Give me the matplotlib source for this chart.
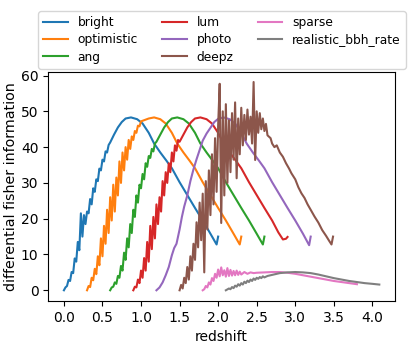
import numpy as np
import matplotlib
matplotlib.use('Agg')
import matplotlib.pyplot as plt

labels = ['bright', 'optimistic', 'ang', 'lum', 'photo', 'deepz', 'sparse', 'realistic_bbh_rate']

bright_z = [0.00, 0.02, 0.04, 0.06, 0.08, 0.10, 0.12, 0.14, 0.16, 0.18, 0.20, 0.22, 0.24, 0.26, 0.28, 0.30,
            0.32, 0.34, 0.36, 0.38, 0.40, 0.42, 0.44, 0.46, 0.48, 0.50, 0.52, 0.54, 0.56, 0.58, 0.60,
            0.65, 0.70, 0.75, 0.80, 0.87, 0.95, 1.02, 1.10, 1.17, 1.25, 1.33, 1.40, 1.50, 1.60, 1.70,
            1.80, 1.90, 1.98, 2.00]
bright_v = [0.0, 0.8, 1.2, 2.9, 2.6, 5.1, 4.8, 8.9, 8.0, 13.5, 11.2, 21.5, 15.0, 21.0, 18.5, 22.0,
            21.5, 25.5, 24.0, 28.5, 27.5, 31.0, 30.5, 34.0, 33.5, 36.5, 36.0, 38.8, 38.5, 40.6, 41.3,
            43.5, 45.5, 47.0, 48.0, 48.3, 47.8, 46.6, 44.0, 41.0, 38.5, 36.2, 34.1, 30.2, 26.6, 23.0,
            19.5, 15.8, 12.8, 15.0]

optimistic_z = [0.30, 0.32, 0.34, 0.36, 0.38, 0.40, 0.42, 0.44, 0.46, 0.48, 0.50, 0.52, 0.54, 0.56, 0.58,
                0.60, 0.62, 0.64, 0.66, 0.68, 0.70, 0.72, 0.74, 0.76, 0.78, 0.80, 0.82, 0.84, 0.86, 0.88,
                0.90, 0.92, 0.94, 0.96, 0.98, 1.00, 1.05, 1.10, 1.17, 1.25, 1.32, 1.40, 1.47, 1.55, 1.63,
                1.70, 1.80, 1.90, 2.00, 2.10, 2.20, 2.28, 2.30]
optimistic_v = [0.0, 1.2, 0.9, 3.5, 2.8, 6.0, 4.5, 9.5, 7.0, 14.5, 9.5, 18.0, 13.0, 22.5, 16.0,
                26.0, 19.5, 29.5, 22.0, 31.5, 26.5, 36.0, 30.0, 38.5, 33.5, 40.0, 36.5, 42.0, 39.5, 43.0,
                42.0, 44.5, 44.0, 46.0, 45.8, 47.2, 47.6, 48.0, 48.3, 47.8, 46.6, 44.0, 41.0, 38.5, 36.2,
                34.1, 30.2, 26.6, 23.0, 19.5, 15.8, 12.8, 15.0]

ang_z = [0.60, 0.62, 0.64, 0.66, 0.68, 0.70, 0.72, 0.74, 0.76, 0.78, 0.80, 0.82, 0.84, 0.86, 0.88,
         0.90, 0.92, 0.94, 0.96, 0.98, 1.00, 1.02, 1.04, 1.06, 1.08, 1.10, 1.12, 1.14, 1.16, 1.18,
         1.20, 1.25, 1.30, 1.35, 1.40, 1.47, 1.55, 1.62, 1.70, 1.77, 1.85, 1.93, 2.00, 2.10, 2.20,
         2.30, 2.40, 2.50, 2.58, 2.60]
ang_v = [0.0, 0.8, 1.0, 2.2, 1.8, 4.0, 3.5, 6.8, 5.5, 10.5, 8.5, 14.5, 12.0, 18.5, 16.0,
         22.5, 20.5, 26.5, 24.5, 29.5, 28.5, 32.5, 31.0, 35.5, 34.5, 37.5, 37.0, 39.5, 38.8, 41.0,
         41.5, 43.5, 45.5, 47.0, 48.0, 48.3, 47.8, 46.6, 44.0, 41.0, 38.5, 36.2, 34.1, 30.2, 26.6,
         23.0, 19.5, 15.8, 12.8, 15.0]

lum_z = [0.90, 0.92, 0.94, 0.96, 0.98, 1.00, 1.02, 1.04, 1.06, 1.08, 1.10, 1.12, 1.14, 1.16, 1.18,
         1.20, 1.22, 1.24, 1.26, 1.28, 1.30, 1.32, 1.34, 1.36, 1.38, 1.40, 1.42, 1.44, 1.46, 1.48,
         1.50, 1.55, 1.60, 1.65, 1.70, 1.77, 1.85, 1.92, 2.00, 2.07, 2.15, 2.23, 2.30, 2.40, 2.50,
         2.60, 2.70, 2.78, 2.84, 2.88, 2.90]
lum_v = [0.0, 1.0, 0.8, 3.0, 2.0, 5.5, 3.5, 9.0, 5.5, 13.5, 8.0, 18.0, 11.5, 20.5, 14.5,
         24.0, 18.5, 26.0, 22.0, 30.5, 26.5, 33.0, 30.0, 35.5, 33.0, 38.5, 36.0, 40.5, 39.0, 42.0,
         41.5, 43.5, 45.5, 47.0, 48.0, 48.3, 47.8, 46.6, 44.0, 41.0, 38.5, 36.2, 34.1, 30.2, 26.6,
         23.0, 19.5, 16.2, 14.2, 14.4, 14.9]

photo_z = [1.20, 1.24, 1.28, 1.32, 1.36, 1.40, 1.43, 1.46, 1.50, 1.53, 1.56, 1.60, 1.64, 1.68, 1.72,
           1.76, 1.80, 1.85, 1.90, 1.95, 2.00, 2.07, 2.15, 2.22, 2.30, 2.37, 2.45, 2.53, 2.60, 2.70,
           2.80, 2.90, 3.00, 3.10, 3.18, 3.20]
photo_v = [0.0, 0.8, 2.2, 4.2, 6.5, 9.8, 11.8, 13.0, 17.0, 20.5, 23.4, 26.5, 30.5, 33.8, 36.6,
           39.2, 41.8, 43.8, 45.4, 47.0, 47.9, 48.3, 47.8, 46.6, 44.0, 41.0, 38.5, 36.2, 34.1, 30.2,
           26.6, 23.0, 19.5, 15.8, 12.6, 15.0]

deepz_z = [1.50, 1.52, 1.54, 1.56, 1.58, 1.60, 1.62, 1.64, 1.66, 1.68, 1.70, 1.72, 1.74, 1.76, 1.78,
           1.80, 1.82, 1.84, 1.86, 1.88, 1.90, 1.92, 1.94, 1.96, 1.98, 2.00, 2.02, 2.04, 2.06, 2.08,
           2.10, 2.12, 2.14, 2.16, 2.18, 2.20, 2.22, 2.24, 2.26, 2.28, 2.30, 2.32, 2.34, 2.36, 2.38,
           2.40, 2.42, 2.44, 2.46, 2.48, 2.50, 2.52, 2.54, 2.56, 2.58, 2.60, 2.62, 2.64, 2.68, 2.70,
           2.73, 2.76, 2.80, 2.84, 2.88, 2.92, 2.95, 3.00, 3.04, 3.08, 3.12, 3.16, 3.20, 3.25, 3.30,
           3.35, 3.40, 3.44, 3.47, 3.49]
deepz_v = [0.0, 1.5, 0.5, 3.5, 2.0, 6.5, 3.0, 9.5, 5.5, 13.0, 8.5, 19.0, 12.0, 24.5, 14.0,
           27.0, 5.0, 30.5, 17.0, 33.5, 21.0, 38.0, 24.0, 42.5, 27.5, 46.0, 57.7, 18.8, 50.0, 26.5,
           52.0, 30.0, 47.5, 33.0, 49.5, 36.5, 52.5, 31.3, 48.0, 38.0, 51.0, 40.5, 49.0, 42.0, 50.5,
           43.5, 48.5, 41.0, 58.2, 36.4, 50.0, 44.0, 49.5, 45.0, 48.0, 44.5, 46.5, 43.3, 42.5, 41.0,
           40.0, 40.5, 38.5, 37.3, 35.5, 34.0, 32.7, 31.0, 28.8, 27.1, 25.8, 24.0, 22.5, 20.6, 18.9,
           16.8, 15.2, 13.8, 12.8, 15.0]

sparse_z = [1.80, 1.82, 1.84, 1.86, 1.88, 1.90, 1.92, 1.94, 1.96, 1.98, 2.00, 2.02, 2.04, 2.06, 2.08,
            2.10, 2.12, 2.14, 2.16, 2.18, 2.20, 2.22, 2.24, 2.26, 2.28, 2.30, 2.34, 2.38, 2.42, 2.46,
            2.50, 2.60, 2.70, 2.80, 2.90, 3.00, 3.10, 3.20, 3.30, 3.40, 3.50, 3.60, 3.70, 3.80]
sparse_v = [0.0, 0.3, 1.2, 0.8, 2.2, 1.6, 3.4, 2.6, 4.6, 3.5, 5.8, 3.9, 6.4, 4.2, 5.6,
            3.8, 6.2, 4.0, 5.7, 4.1, 5.4, 4.2, 5.5, 4.3, 5.2, 4.4, 5.1, 4.6, 5.0, 4.8,
            4.9, 5.0, 5.1, 5.1, 4.9, 4.6, 4.2, 3.8, 3.4, 3.0, 2.6, 2.3, 2.0, 1.7]

bbh_z = [2.10, 2.14, 2.16, 2.18, 2.20, 2.22, 2.24, 2.26, 2.28, 2.30, 2.32, 2.34, 2.36, 2.38, 2.40,
         2.42, 2.44, 2.46, 2.48, 2.50, 2.52, 2.54, 2.56, 2.58, 2.60, 2.64, 2.68, 2.72, 2.76, 2.80,
         2.90, 3.00, 3.10, 3.20, 3.30, 3.40, 3.50, 3.60, 3.70, 3.80, 3.90, 4.00, 4.09]
bbh_v = [0.0, 0.5, 0.3, 0.9, 0.6, 1.3, 1.0, 1.7, 1.3, 2.0, 1.6, 2.4, 2.0, 2.7, 2.3,
         3.0, 2.6, 3.3, 2.9, 3.5, 3.2, 3.7, 3.4, 3.9, 3.6, 4.0, 4.2, 4.4, 4.6, 4.8,
         5.0, 5.1, 5.0, 4.8, 4.4, 3.9, 3.4, 3.0, 2.6, 2.3, 2.0, 1.8, 1.6]


def main():
    fig = plt.figure(figsize=(4.15, 3.46), dpi=100)
    ax = fig.add_axes([0.116, 0.130, 0.836, 0.662])

    series = [(bright_z, bright_v), (optimistic_z, optimistic_v), (ang_z, ang_v),
              (lum_z, lum_v), (photo_z, photo_v), (deepz_z, deepz_v),
              (sparse_z, sparse_v), (bbh_z, bbh_v)]
    for (z, v), lab in zip(series, labels):
        ax.plot(z, v, label=lab)

    ax.set_xlabel('redshift')
    ax.set_ylabel('differential fisher information', fontsize=10.3, labelpad=2)
    ax.set_xticks(np.arange(0, 4.01, 0.5))
    ax.set_ylim(-3, 61)

    fig.legend(loc='upper center', bbox_to_anchor=(0.535, 0.985), ncol=3,
               fontsize=8.8, labelspacing=0.35)
    fig.savefig('out.png', dpi=100)


if __name__ == '__main__':
    main()
